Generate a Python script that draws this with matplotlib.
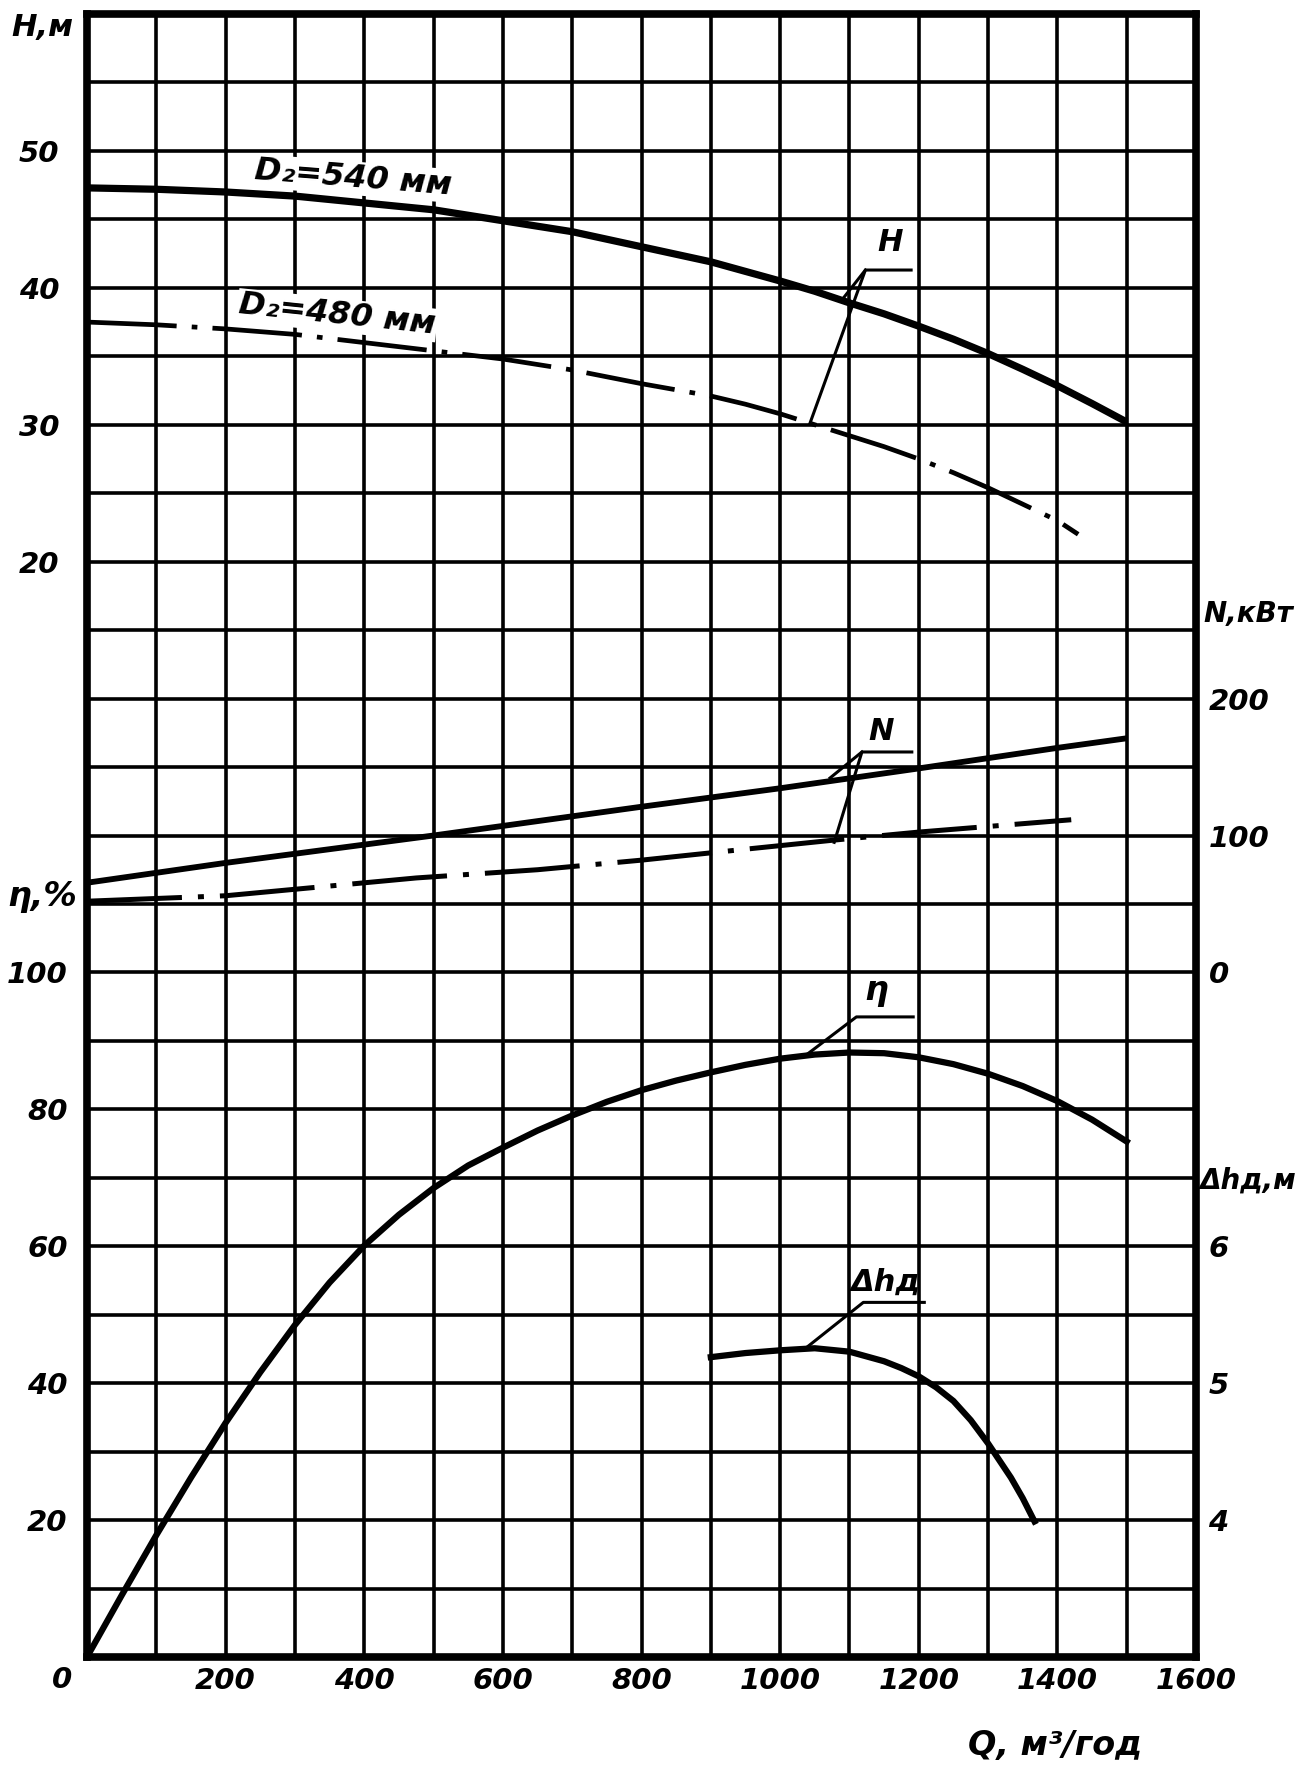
import numpy as np
import matplotlib
matplotlib.use("Agg")
import matplotlib.pyplot as plt

# --- data ---
q_h540 = [0, 100, 200, 300, 400, 500, 600, 700, 800, 900, 1000, 1050, 1100, 1150, 1200,
          1250, 1300, 1350, 1400, 1450, 1500]
h540 = [47.3, 47.2, 47.0, 46.7, 46.2, 45.7, 44.9, 44.1, 43.0, 41.9, 40.5, 39.75, 38.9, 38.1,
        37.2, 36.25, 35.2, 34.05, 32.85, 31.55, 30.2]

q_h480 = [0, 100, 200, 300, 400, 500, 600, 700, 800, 900, 950, 1000, 1050, 1100, 1150, 1200,
          1250, 1300, 1350, 1400, 1430]
h480 = [37.5, 37.3, 37.0, 36.6, 36.0, 35.4, 34.8, 34.0, 33.0, 32.1, 31.5, 30.8, 30.0, 29.2,
        28.4, 27.5, 26.5, 25.4, 24.2, 23.0, 22.0]

q_n540 = [0, 200, 500, 800, 1000, 1200, 1400, 1500]
n540 = [65.5, 80, 100, 121, 134.5, 149, 164, 171]

q_n480 = [0, 200, 475, 650, 800, 950, 1075, 1200, 1420]
n480 = [52, 56, 69, 75, 82, 90, 96.5, 102.5, 111.5]

q_eta = [0, 50, 100, 150, 200, 250, 300, 350, 400, 450, 500, 550, 600, 650, 700, 750, 800,
         850, 900, 950, 1000, 1050, 1100, 1150, 1200, 1250, 1300, 1350, 1400, 1450, 1500]
eta = [0, 9.0, 17.8, 26.2, 34.2, 41.6, 48.5, 54.7, 60.1, 64.6, 68.5, 71.8, 74.4, 76.9, 79.1,
       81.1, 82.8, 84.2, 85.4, 86.5, 87.4, 88.0, 88.3, 88.2, 87.6, 86.6, 85.2, 83.4, 81.2,
       78.5, 75.3]

q_dh = [900, 950, 1000, 1050, 1100, 1150, 1175, 1200, 1225, 1250, 1275, 1300, 1333, 1350, 1367]
dh = [5.19, 5.22, 5.24, 5.255, 5.23, 5.16, 5.11, 5.05, 4.97, 4.87, 4.73, 4.56, 4.31, 4.16, 3.99]

h_ticks = [20, 30, 40, 50]
eta_ticks = [20, 40, 60, 80, 100]
n_ticks = [0, 100, 200]
dh_ticks = [4, 5, 6]

W, H = 1307, 1772
fnt = dict(family="DejaVu Sans", style="italic", weight="bold")

fig = plt.figure(figsize=(W / 100, H / 100), dpi=100)
ax = fig.add_axes([87 / W, 1 - 1657 / H, (1196 - 87) / W, (1657 - 14) / H])

# main axis = H, m ; grid every row (5 m) and every 100 m3/h
ax.set_xlim(0, 1600)
ax.set_ylim(-60, 60)
ax.set_xticks(np.arange(0, 1601, 100))
ax.set_xticklabels(["" if (v == 0 or v % 200) else str(v) for v in range(0, 1601, 100)], **fnt)
ax.set_yticks(np.arange(-60, 61, 5))
ax.set_yticklabels([str(v) if v in h_ticks else "" for v in range(-60, 61, 5)], **fnt)
ax.tick_params(axis="x", length=0, pad=7, labelsize=21)
ax.tick_params(axis="y", length=0, pad=20, labelsize=21)
ax.grid(True, color="k", lw=2.6)
for s in ax.spines.values():
    s.set_linewidth(5.5)

def twin(lo, hi, ticks, side):
    a = ax.twinx()
    a.set_ylim(lo, hi)
    a.set_yticks(ticks)
    a.set_yticklabels([str(t) for t in ticks], **fnt)
    if side == "left":
        a.yaxis.tick_left()
        a.tick_params(axis="y", length=0, pad=14, labelsize=21)
    else:
        a.tick_params(axis="y", length=0, pad=9, labelsize=21)
    for s in a.spines.values():
        s.set_visible(False)
    a.patch.set_visible(False)
    return a

ax_eta = twin(0, 240, eta_ticks, "left")
ax_n = twin(-500, 700, n_ticks, "right")
ax_dh = twin(3, 15, dh_ticks, "right")

dashdot = (0, (19, 3.2, 1.2, 3.2))

# H curves
ax.plot(q_h540, h540, color="k", lw=5.2, solid_capstyle="butt", solid_joinstyle="round")
ax.plot(q_h480, h480, color="k", lw=3.4, linestyle=dashdot)
# N curves
ax_n.plot(q_n540, n540, color="k", lw=4.2, solid_capstyle="butt")
ax_n.plot(q_n480, n480, color="k", lw=3.6, linestyle=dashdot)
# efficiency
ax_eta.plot(q_eta, eta, color="k", lw=4.5, solid_joinstyle="round")
# NPSH
ax_dh.plot(q_dh, dh, color="k", lw=4.5, solid_joinstyle="round")

# leaders and curve names
lk = dict(color="k", lw=2.2)
ax.plot([1043, 1123, 1189], [30.1, 41.3, 41.3], **lk)
ax.plot([1092, 1123], [39.3, 41.3], **lk)
ax.text(1159, 43.3, "H", ha="center", va="center", fontsize=22, **fnt)

ax_n.plot([1078, 1118, 1190], [95, 161, 161], **lk)
ax_n.plot([1072, 1118], [142, 161], **lk)
ax_n.text(1146, 176, "N", ha="center", va="center", fontsize=22, **fnt)

ax_eta.plot([1041, 1110, 1192], [88.2, 93.5, 93.5], **lk)
ax_eta.text(1139, 97.3, "η", ha="center", va="center", fontsize=24, **fnt)

ax_dh.plot([1038, 1120, 1208], [5.26, 5.59, 5.59], **lk)
ax_dh.text(1152, 5.74, "Δhд", ha="center", va="center", fontsize=22, **fnt)

bb = dict(facecolor="white", edgecolor="none", pad=1)
ax.text(384, 48.0, "D₂=540 мм", ha="center", va="center", rotation=-4.5,
        fontsize=23, bbox=bb, **fnt)
ax.text(361, 38.0, "D₂=480 мм", ha="center", va="center", rotation=-6,
        fontsize=23, bbox=bb, **fnt)

# axis captions
fig.text(42 / W, 1 - 28 / H, "H,м", ha="center", va="center", fontsize=22, **fnt)
fig.text(42 / W, 1 - 897 / H, "η,%", ha="center", va="center", fontsize=24, **fnt)
fig.text(1203 / W, 1 - 614 / H, "N,кВт", ha="left", va="center", fontsize=20, **fnt)
fig.text(1200 / W, 1 - 1181 / H, "Δhд,м", ha="left", va="center", fontsize=20, **fnt)
fig.text(1055 / W, 1 - 1745 / H, "Q, м³/год", ha="center", va="center", fontsize=24, **fnt)
fig.text(62 / W, 1 - 1680 / H, "0", ha="center", va="center", fontsize=21, **fnt)

fig.savefig("out.png", dpi=100, facecolor="white")
